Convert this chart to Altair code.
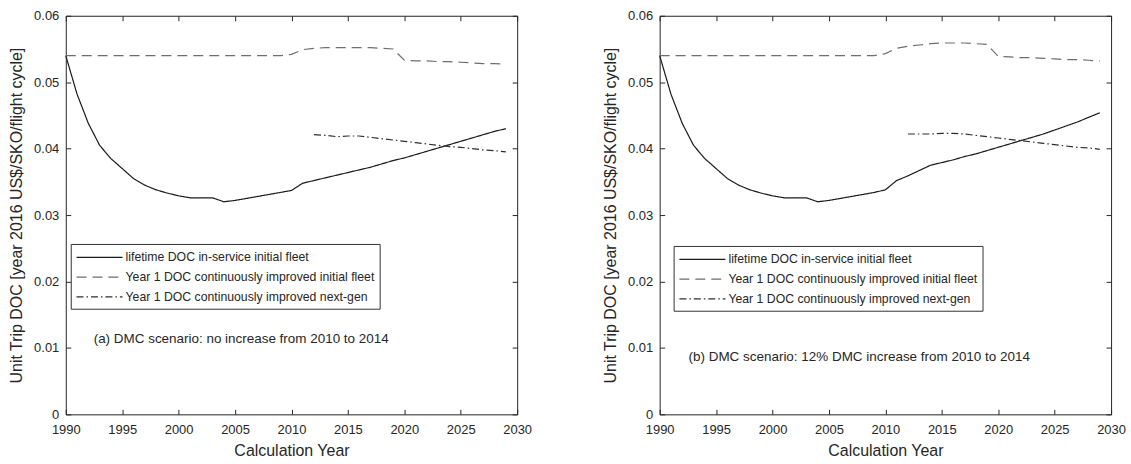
import altair as alt
import pandas as pd

# ---------------- data ----------------
years_main = list(range(1990, 2030))
years_next = list(range(2012, 2030))

series_names = [
    "lifetime DOC in-service initial fleet",
    "Year 1 DOC continuously improved initial fleet",
    "Year 1 DOC continuously improved next-gen",
]

a_lifetime = [0.0540, 0.0482, 0.0438, 0.0405, 0.0385, 0.0370, 0.0355, 0.0345, 0.0338, 0.0333,
              0.0329, 0.0326, 0.0326, 0.0326, 0.0320, 0.0322, 0.0325, 0.0328, 0.0331, 0.0334,
              0.0337, 0.0348, 0.0352, 0.0356, 0.0360, 0.0364, 0.0368, 0.0372, 0.0377, 0.0382,
              0.0386, 0.0391, 0.0396, 0.0401, 0.0406, 0.0411, 0.0416, 0.0421, 0.0426, 0.0430]
a_initial = [0.0540] * 20 + [0.0542, 0.0549, 0.0551, 0.0552, 0.0552, 0.0552, 0.0552, 0.0552, 0.0551, 0.0550,
                             0.0533, 0.0532, 0.0532, 0.0531, 0.0531, 0.0530, 0.0529, 0.0528, 0.0528, 0.0527]
a_nextgen = [0.0421, 0.0420, 0.0418, 0.0419, 0.0419, 0.0417, 0.0415, 0.0413, 0.0411, 0.0409,
             0.0407, 0.0405, 0.0403, 0.0402, 0.0400, 0.0398, 0.0397, 0.0395]

b_lifetime = [0.0540, 0.0482, 0.0438, 0.0405, 0.0385, 0.0370, 0.0355, 0.0345, 0.0338, 0.0333,
              0.0329, 0.0326, 0.0326, 0.0326, 0.0320, 0.0322, 0.0325, 0.0328, 0.0331, 0.0334,
              0.0338, 0.0352, 0.0359, 0.0367, 0.0375, 0.0379, 0.0383, 0.0388, 0.0392, 0.0397,
              0.0402, 0.0407, 0.0412, 0.0417, 0.0422, 0.0428, 0.0434, 0.0440, 0.0447, 0.0454]
b_initial = [0.0540] * 20 + [0.0543, 0.0551, 0.0554, 0.0556, 0.0558, 0.0559, 0.0559, 0.0559, 0.0558, 0.0557,
                             0.0539, 0.0538, 0.0537, 0.0537, 0.0536, 0.0535, 0.0534, 0.0534, 0.0533, 0.0532]
b_nextgen = [0.0422, 0.0422, 0.0422, 0.0423, 0.0423, 0.0422, 0.0420, 0.0418, 0.0416, 0.0414,
             0.0412, 0.0410, 0.0408, 0.0406, 0.0404, 0.0402, 0.0401, 0.0399]

x_ticks = [1990, 1995, 2000, 2005, 2010, 2015, 2020, 2025, 2030]
y_ticks = [0, 0.01, 0.02, 0.03, 0.04, 0.05, 0.06]

note_a = "(a) DMC scenario: no increase from 2010 to 2014"
note_b = "(b) DMC scenario: 12% DMC increase from 2010 to 2014"

FONT = "Liberation Sans"
TXT = "#262626"
W, H = 453, 400


def make_df(life, init, nxt):
    rows = []
    for y, v in zip(years_main, life):
        rows.append({"year": y, "value": v, "series": series_names[0]})
    for y, v in zip(years_main, init):
        rows.append({"year": y, "value": v, "series": series_names[1]})
    for y, v in zip(years_next, nxt):
        rows.append({"year": y, "value": v, "series": series_names[2]})
    return pd.DataFrame(rows)


def panel(df, note, note_x, note_y, leg_x, leg_y):
    xscale = alt.Scale(domain=[1990, 2030], nice=False, zero=False)
    yscale = alt.Scale(domain=[0, 0.06], nice=False)

    legend = alt.Legend(
        orient="none", legendX=leg_x, legendY=leg_y, title=None,
        symbolType="M-1,0H5", symbolSize=237, symbolStrokeWidth=1.2, symbolFillColor="transparent",
        labelFont=FONT, labelFontSize=12.3, labelColor=TXT, labelOffset=33,
        strokeColor="#333333", fillColor="white", padding=5, rowPadding=4.8,
        labelLimit=400,
    )

    bottom = alt.Axis(orient="bottom", values=x_ticks, format="d", offset=-5, tickSize=5,
                      domain=False, grid=False, labelPadding=9, labelFlush=False,
                      title="Calculation Year", titlePadding=6)
    left = alt.Axis(orient="left", values=y_ticks, offset=-5, tickSize=5, domain=False, grid=False,
                    labelExpr="format(datum.value, '.2~f')", labelPadding=7, labelFlush=False,
                    title="Unit Trip DOC [year 2016 US$/SKO/flight cycle]", titlePadding=9)
    top = alt.Axis(orient="top", values=x_ticks, offset=-5, tickSize=5, domain=False, grid=False,
                   labels=False, title=None)
    right = alt.Axis(orient="right", values=y_ticks, offset=-5, tickSize=5, domain=False, grid=False,
                     labels=False, title=None)

    base = alt.Chart(df)
    lines = base.mark_line(strokeWidth=1.2).encode(
        x=alt.X("year:Q", scale=xscale, axis=bottom),
        y=alt.Y("value:Q", scale=yscale, axis=left),
        color=alt.Color("series:N", scale=alt.Scale(domain=series_names,
                                                    range=["#1a1a1a", "#6e6e6e", "#2e2e2e"]),
                        legend=legend, sort=series_names),
        strokeDash=alt.StrokeDash("series:N", scale=alt.Scale(domain=series_names,
                                                              range=[[1, 0], [10, 6], [7, 3, 1.5, 3]]),
                                  legend=legend, sort=series_names),
    )
    frame = base.mark_point(opacity=0).encode(
        x=alt.X("year:Q", scale=xscale, axis=top),
        y=alt.Y("value:Q", scale=yscale, axis=right),
    )
    text = alt.Chart(pd.DataFrame({"t": [note]})).mark_text(
        align="left", baseline="middle", font=FONT, fontSize=13.5, color=TXT
    ).encode(x=alt.value(note_x), y=alt.value(note_y), text="t:N")

    return alt.layer(lines, frame, text).resolve_axis(x="independent", y="independent").properties(
        width=W, height=H)


left_panel = panel(make_df(a_lifetime, a_initial, a_nextgen), note_a, 28, 324, 5, 229)
right_panel = panel(make_df(b_lifetime, b_initial, b_nextgen), note_b, 29, 342, 14, 231)

chart = alt.hconcat(left_panel, right_panel, spacing=143, bounds="flush").resolve_scale(
    color="independent", strokeDash="independent"
).resolve_legend(color="independent", strokeDash="independent").properties(
    padding={"left": 8, "top": 8, "right": 5, "bottom": 5}, background="white"
).configure_view(stroke="#262626", strokeWidth=1).configure_axis(
    labelFont=FONT, labelFontSize=13, labelColor=TXT, titleFont=FONT, titleFontSize=16,
    titleColor=TXT, titleFontWeight="normal", tickColor="#262626", tickWidth=1
)

chart.save("out.html", embed_options={"renderer": "svg", "actions": False})
